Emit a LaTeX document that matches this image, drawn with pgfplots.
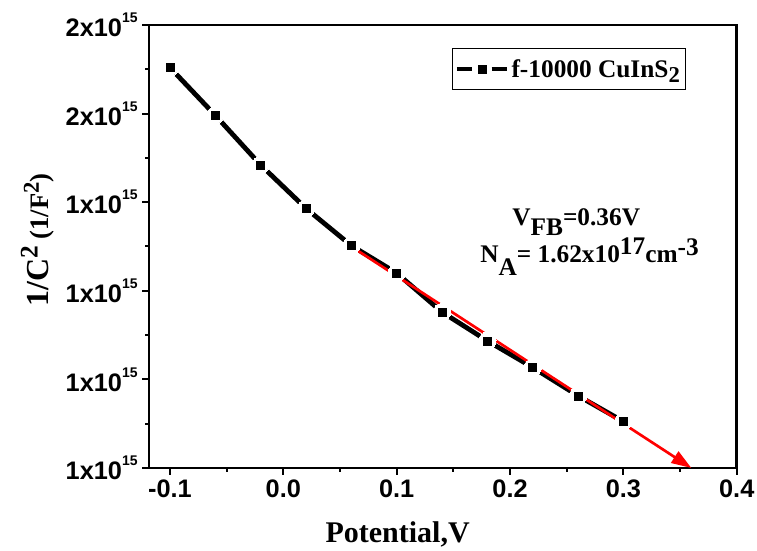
\documentclass[border=0pt]{standalone}
\usepackage{fontspec}
\setmainfont{Liberation Serif}
\newfontfamily\arial{Liberation Sans}
\usepackage{pgfplots}
\usepackage{pgfplotstable}
\pgfplotsset{compat=1.18}
\usetikzlibrary{arrows.meta}

\pgfplotstableread{
x y
-0.10 1.704
-0.06 1.596
-0.02 1.484
0.02 1.386
0.06 1.302
0.10 1.240
0.14 1.152
0.18 1.087
0.22 1.027
0.26 0.963
0.30 0.905
}\datatable

\pgfplotstableread{
x y
0.063 1.295
0.360 0.800
}\fittable

\newcommand{\ytl}[1]{#1x10\raisebox{10.5pt}{\fontsize{10.5}{10.5}\selectfont 15}}

\begin{document}
\begin{tikzpicture}
\useasboundingbox (0,0) rectangle (567.75pt,412.5pt);
\begin{axis}[
  at={(111.75pt,61.5pt)}, anchor=south west,
  scale only axis, width=440.8pt, height=332.25pt,
  xmin=-0.1185, xmax=0.4, ymin=0.8, ymax=1.8,
  xtick={-0.1,0,0.1,0.2,0.3,0.4},
  xticklabels={-0.1,0.0,0.1,0.2,0.3,0.4},
  minor xtick={-0.05,0.05,0.15,0.25,0.35},
  ytick={0.8,1.0,1.2,1.4,1.6,1.8},
  yticklabels={\ytl{1},\ytl{1},\ytl{1},\ytl{1},\ytl{2},\ytl{2}},
  minor ytick={0.9,1.1,1.3,1.5,1.7},
  tick pos=left, tick align=outside,
  major tick length=5pt, minor tick length=3pt,
  tick style={black, line width=1.5pt},
  axis line style={line width=2pt},
  ticklabel style={font=\arial\bfseries\fontsize{19}{19}\selectfont},
  xlabel={Potential,V},
  xlabel style={font=\bfseries\fontsize{22.5}{24}\selectfont, at={(axis description cs:0.423,-0.169)}, anchor=base},
  ylabel={{\fontsize{24}{24}\selectfont 1/C\raisebox{8pt}{\fontsize{19}{19}\selectfont 2}} (1/F\raisebox{7pt}{\fontsize{17}{17}\selectfont 2})},
  ylabel style={font=\bfseries\fontsize{20}{22}\selectfont, at={(axis description cs:-0.19,0.515)}, anchor=center},
  clip=false,
  legend style={at={(axis description cs:0.515,0.948)}, anchor=north west, draw=black, line width=0.8pt,
    font=\bfseries\fontsize{19}{21}\selectfont, inner xsep=2pt, inner ysep=6pt},
  legend cell align=left,
]
\addplot[black, line width=3.6pt, mark=*, mark size=6.5pt, mark options={solid, fill=white, draw=white, line width=0pt}, forget plot] table {\datatable};
\addplot[only marks, mark=square*, mark size=3pt, black, forget plot] table {\datatable};
\addplot[red, line width=2pt, -{Triangle[length=15pt, width=10pt]}, forget plot] table {\fittable};
\addlegendimage{legend image code/.code={
  \draw[black, line width=3pt] (0pt,0pt) -- (11pt,0pt);
  \draw[black, line width=3pt] (26pt,0pt) -- (37.5pt,0pt);
  \fill[black] (16.5pt,-3pt) rectangle (22.5pt,3pt);
}}
\addlegendentry{f-10000 CuInS\raisebox{-4pt}{\fontsize{17}{17}\selectfont 2}}
\node[anchor=base west, font=\bfseries\fontsize{19}{21}\selectfont, inner sep=0pt] at (axis cs:0.2018,1.3485) {V\raisebox{-7.5pt}{FB}=0.36V};
\node[anchor=base west, font=\bfseries\fontsize{19}{21}\selectfont, inner sep=0pt] at (axis cs:0.1735,1.265) {N\raisebox{-10pt}{A}= 1.62x10\raisebox{6pt}{17}cm\raisebox{5pt}{-3}};
\end{axis}
\end{tikzpicture}
\end{document}
